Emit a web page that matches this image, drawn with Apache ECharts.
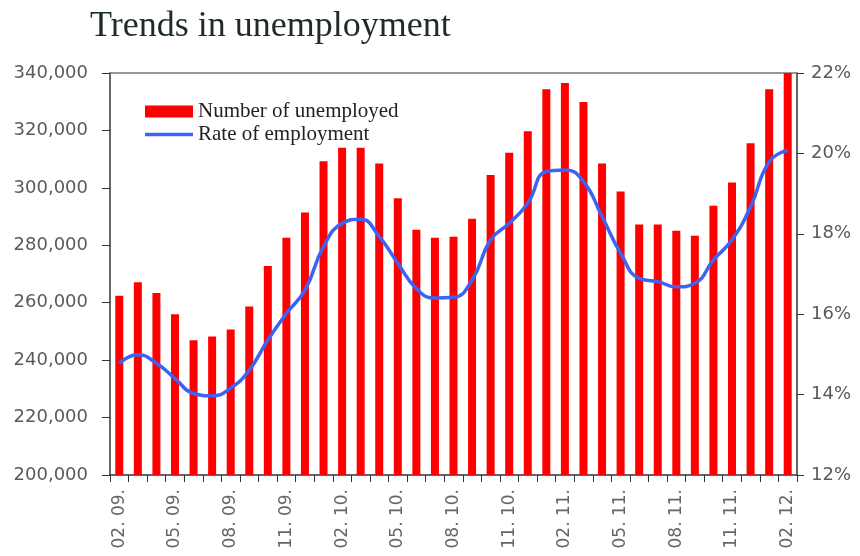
<!DOCTYPE html>
<html>
<head>
<meta charset="utf-8">
<script src="https://cdn.jsdelivr.net/npm/echarts@6/dist/echarts.min.js"></script>
<style>
  html, body { margin: 0; padding: 0; background: #fff; }
  #chart { width: 860px; height: 556px; }
</style>
</head>
<body>
<div id="chart"></div>
<script>
// months Feb 2009 .. Feb 2012
var months = [
  "02. 09.", "03. 09.", "04. 09.", "05. 09.", "06. 09.", "07. 09.", "08. 09.", "09. 09.", "10. 09.", "11. 09.", "12. 09.",
  "01. 10.", "02. 10.", "03. 10.", "04. 10.", "05. 10.", "06. 10.", "07. 10.", "08. 10.", "09. 10.", "10. 10.", "11. 10.", "12. 10.",
  "01. 11.", "02. 11.", "03. 11.", "04. 11.", "05. 11.", "06. 11.", "07. 11.", "08. 11.", "09. 11.", "10. 11.", "11. 11.", "12. 11.",
  "01. 12.", "02. 12."
];

var unemployed = [
  262400, 267100, 263400, 256000, 246900, 248200, 250700, 258700, 272800, 282600, 291400,
  309300, 314000, 314000, 308500, 296400, 285400, 282600, 283000, 289200, 304500, 312200,
  319700, 334300, 336500, 329900, 308500, 298700, 287200, 287200, 285100, 283300, 293800,
  301900, 315500, 334300, 340000
];

var rate = [
  14.78, 14.99, 14.78, 14.40, 14.03, 13.97, 14.16, 14.61, 15.36, 16.02, 16.60,
  17.68, 18.26, 18.36, 17.93, 17.27, 16.64, 16.40, 16.42, 16.85, 17.85, 18.26,
  18.76, 19.55, 19.59, 19.30, 18.43, 17.52, 16.89, 16.81, 16.68, 16.77, 17.35,
  17.85, 18.67, 19.79, 20.08
];

var axisFont = "'DejaVu Sans', sans-serif";
var serif = "'Liberation Serif', 'DejaVu Serif', serif";

var chart = echarts.init(document.getElementById("chart"));
chart.setOption({
  animation: false,
  title: {
    text: "Trends in unemployment",
    left: 85,
    top: 4,
    textStyle: { fontFamily: serif, fontSize: 36, fontWeight: "normal", color: "#1d2b2b" }
  },
  legend: {
    orient: "vertical",
    left: 140,
    top: 96,
    itemGap: 2,
    itemWidth: 48,
    itemHeight: 12,
    textStyle: { fontFamily: serif, fontSize: 21, color: "#222" },
    data: [
      { name: "Number of unemployed", icon: "rect" },
      { name: "Rate of employment", icon: "path://M0,0 L48,0 L48,3.5 L0,3.5 Z" }
    ]
  },
  grid: { left: 110, right: 63, top: 73, bottom: 81 },
  xAxis: [
    {
      type: "category",
      data: months,
      boundaryGap: true,
      axisLine: { lineStyle: { color: "#333", width: 1.5 } },
      axisTick: { show: true, interval: 0, length: 7, lineStyle: { color: "#333" } },
      axisLabel: {
        interval: 2,
        rotate: 90,
        margin: 14,
        fontFamily: axisFont,
        fontSize: 17,
        color: "#666"
      }
    },
    {
      type: "category",
      position: "top",
      data: months,
      axisLine: { lineStyle: { color: "#777", width: 1.5 } },
      axisTick: { show: false },
      axisLabel: { show: false }
    }
  ],
  yAxis: [
    {
      type: "value",
      min: 200000,
      max: 340000,
      interval: 20000,
      position: "left",
      splitLine: { show: false },
      axisLine: { show: true, lineStyle: { color: "#333", width: 1.5 } },
      axisTick: { show: true, length: 8, lineStyle: { color: "#333" } },
      axisLabel: {
        margin: 22,
        fontFamily: axisFont,
        fontSize: 18,
        color: "#5a5a5a",
        formatter: function (v) { return v.toLocaleString("en-US"); }
      }
    },
    {
      type: "value",
      min: 12,
      max: 22,
      interval: 2,
      position: "right",
      splitLine: { show: false },
      axisLine: { show: true, lineStyle: { color: "#333", width: 1.5 } },
      axisTick: { show: true, length: 7, lineStyle: { color: "#333" } },
      axisLabel: {
        margin: 14,
        fontFamily: axisFont,
        fontSize: 18,
        color: "#5a5a5a",
        formatter: "{value}%"
      }
    }
  ],
  series: [
    {
      name: "Number of unemployed",
      type: "bar",
      data: unemployed,
      barWidth: 8,
      itemStyle: { color: "#ff0000" }
    },
    {
      name: "Rate of employment",
      type: "line",
      yAxisIndex: 1,
      data: rate,
      smooth: true,
      symbol: "none",
      showSymbol: false,
      lineStyle: { color: "#3d63f2", width: 3.5 },
      itemStyle: { color: "#3d63f2" }
    }
  ]
});
</script>
</body>
</html>
